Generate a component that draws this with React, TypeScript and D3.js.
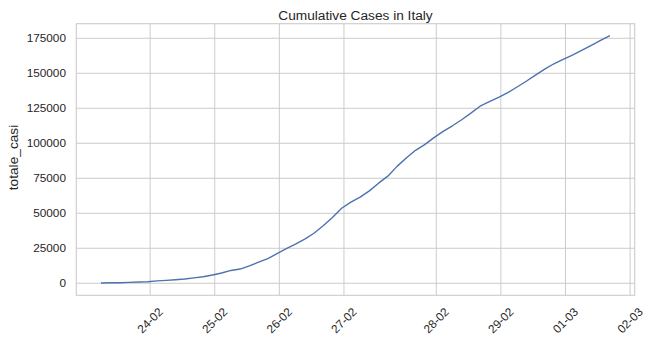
import React from 'react';
import * as d3 from 'd3';

// daily totals, first point 24 Feb 2020 18:00
const totaleCasi = [
  229, 322, 400, 650, 888, 1128, 1694, 2036, 2502, 3089,
  3858, 4636, 5883, 7375, 9172, 10149, 12462, 15113, 17660, 21157,
  24747, 27980, 31506, 35713, 41035, 47021, 53578, 58000, 61500, 66000,
  71500, 76500, 83500, 89500, 95000, 99000, 104000, 108500, 112500, 116800,
  121500, 126500, 129800, 132800, 136200, 140200, 144300, 148700, 153000, 156800,
  160000, 163000, 166300, 169800, 173300, 176600,
];
const startDate = new Date(2020, 1, 24, 18);
const dates = totaleCasi.map((_, i) => d3.timeDay.offset(startDate, i));

// matplotlib put the ticks on these dates but the labels were overwritten
const tickDates = [
  new Date(2020, 2, 1), new Date(2020, 2, 8), new Date(2020, 2, 15), new Date(2020, 2, 22),
  new Date(2020, 3, 1), new Date(2020, 3, 8), new Date(2020, 3, 15), new Date(2020, 3, 22),
];
const tickLabels = ['24-02', '25-02', '26-02', '27-02', '28-02', '29-02', '01-03', '02-03'];
const yTicks = [0, 25000, 50000, 75000, 100000, 125000, 150000, 175000];

const W = 651, H = 341;
const left = 76.3, right = 634.7, top = 23.7, bottom = 295.3;
const font = '"Liberation Sans", Arial, sans-serif';
const grid = '#cccccc';
const txt = '#262626';

export default function App() {
  const [x0, x1] = d3.extent(dates) as [Date, Date];
  const xPad = (x1.getTime() - x0.getTime()) * 0.05;
  const x = d3.scaleTime()
    .domain([new Date(x0.getTime() - xPad), new Date(x1.getTime() + xPad)])
    .range([left, right]);

  const [y0, y1] = d3.extent(totaleCasi) as [number, number];
  const yPad = (y1 - y0) * 0.05;
  const y = d3.scaleLinear().domain([y0 - yPad, y1 + yPad]).range([bottom, top]);

  const line = d3.line<number>()
    .x((_, i) => x(dates[i]))
    .y(d => y(d));

  return (
    <svg width={W} height={H} style={{ position: 'absolute', left: 0, top: 0, background: '#fff' }}>
      <rect x={left} y={top} width={right - left} height={bottom - top} fill="#fff" />
      {yTicks.map(t => (
        <line key={'gy' + t} x1={left} x2={right} y1={y(t)} y2={y(t)} stroke={grid} strokeWidth={1} />
      ))}
      {tickDates.map((t, i) => (
        <line key={'gx' + i} x1={x(t)} x2={x(t)} y1={top} y2={bottom} stroke={grid} strokeWidth={1} />
      ))}
      <rect x={left} y={top} width={right - left} height={bottom - top} fill="none" stroke={grid} strokeWidth={1.1} />
      <path d={line(totaleCasi) ?? ''} fill="none" stroke="#4c72b0" strokeWidth={1.4} strokeLinejoin="round" strokeLinecap="square" />

      {yTicks.map(t => (
        <text key={'ty' + t} x={66} y={y(t)} textAnchor="end" dominantBaseline="central"
          fontFamily={font} fontSize={11.8} fill={txt}>{t}</text>
      ))}
      {tickDates.map((t, i) => (
        <text key={'tx' + i} x={x(t)} y={320.5} textAnchor="middle" dominantBaseline="central"
          transform={`rotate(-45 ${x(t)} 320.5)`} fontFamily={font} fontSize={11.8} fill={txt}>
          {tickLabels[i]}
        </text>
      ))}

      <text x={(left + right) / 2} y={19.5} textAnchor="middle" fontFamily={font} fontSize={13.7} fill={txt}>
        Cumulative Cases in Italy
      </text>
      <text x={0} y={0} transform={`translate(13.5 ${(top + bottom) / 2 - 2}) rotate(-90)`} textAnchor="middle"
        dominantBaseline="central" fontFamily={font} fontSize={13.7} fill={txt}>
        totale_casi
      </text>
    </svg>
  );
}
